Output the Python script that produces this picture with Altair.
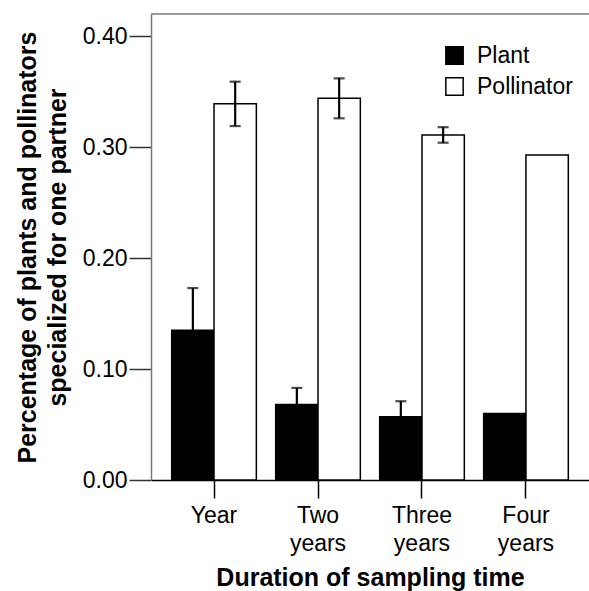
import altair as alt
import pandas as pd

categories = ["Year", "Two years", "Three years", "Four years"]
groups = ["Plant", "Pollinator"]
plant_vals = [0.135, 0.068, 0.057, 0.060]
plant_err = [0.038, 0.015, 0.014, None]
poll_vals = [0.339, 0.344, 0.311, 0.293]
poll_err = [0.020, 0.018, 0.007, None]
y_ticks = [0.0, 0.1, 0.2, 0.3, 0.4]

rows = []
for i, c in enumerate(categories):
    rows.append({"cat": c, "grp": "Plant", "val": plant_vals[i], "err": plant_err[i]})
    rows.append({"cat": c, "grp": "Pollinator", "val": poll_vals[i], "err": poll_err[i]})
df = pd.DataFrame(rows)
df["lo"] = df["val"] - df["err"]
df["hi"] = df["val"] + df["err"]

FONT = "Liberation Sans"
W, H = 438, 466
YMAX = 0.42

x_enc = alt.X("cat:N", sort=categories,
              scale=alt.Scale(paddingInner=0.186, paddingOuter=0.199),
              axis=alt.Axis(title="Duration of sampling time", labelAngle=0,
                            labelExpr="split(datum.label, ' ')",
                            labelFontSize=23, labelFont=FONT, labelColor="black",
                            labelLineHeight=28, labelPadding=6, labelBaseline="top",
                            tickSize=18, tickColor="black", tickWidth=1.5,
                            domainColor="black", domainWidth=1.5,
                            titleFont=FONT, titleFontSize=25, titleFontWeight="bold",
                            titleColor="black", titleY=105, titleBaseline="alphabetic"))
xo_enc = alt.XOffset("grp:N", sort=groups, scale=alt.Scale(paddingInner=0, paddingOuter=0))
y_enc = alt.Y("val:Q", scale=alt.Scale(domain=[0, YMAX], nice=False),
              axis=alt.Axis(values=y_ticks, format=".2f", grid=False,
                            title=["Percentage of plants and pollinators",
                                   "specialized for one partner"],
                            titleFont=FONT, titleFontSize=25, titleFontWeight="bold",
                            titleColor="black", titleLineHeight=30,
                            titleX=-116, titleBaseline="alphabetic",
                            labelFontSize=23, labelFont=FONT, labelColor="black",
                            labelPadding=2, tickSize=22, tickColor="#333", tickWidth=1.5,
                            domainColor="#777", domainWidth=1.5))

bars = alt.Chart(df).mark_bar(stroke="black", strokeWidth=1.5).encode(
    x=x_enc, xOffset=xo_enc, y=y_enc,
    color=alt.Color("grp:N", sort=groups,
                    scale=alt.Scale(domain=groups, range=["black", "white"]),
                    legend=alt.Legend(title=None, orient="none", legendX=292, legendY=30,
                                      symbolType="square", symbolSize=300,
                                      symbolStrokeColor="black", symbolStrokeWidth=1.5,
                                      labelFontSize=23, labelFont=FONT, labelColor="black",
                                      labelOffset=11, rowPadding=6, padding=0))
)

err_df = df.dropna(subset=["err"])
rules = alt.Chart(err_df).mark_rule(color="black", strokeWidth=2.2).encode(
    x=alt.X("cat:N", sort=categories), xOffset=alt.XOffset("grp:N", sort=groups),
    y="lo:Q", y2="hi:Q")
caps_hi = alt.Chart(err_df).mark_tick(color="black", thickness=2.2, size=11).encode(
    x=alt.X("cat:N", sort=categories), xOffset=alt.XOffset("grp:N", sort=groups),
    y="hi:Q")
caps_lo = alt.Chart(err_df).mark_tick(color="black", thickness=2.2, size=11).encode(
    x=alt.X("cat:N", sort=categories), xOffset=alt.XOffset("grp:N", sort=groups),
    y="lo:Q")

top_line = alt.Chart(pd.DataFrame({"a": [0]})).mark_rule(color="#777", strokeWidth=1.5).encode(
    x=alt.value(0), x2=alt.value(W), y=alt.value(0))

chart = alt.layer(bars, rules, caps_hi, caps_lo, top_line).properties(
    width=W, height=H,
    padding={"left": 151, "top": 14, "right": 0, "bottom": 111},
    autosize=alt.AutoSizeParams(type="none"),
    background="white",
).configure_view(stroke=None)

chart.save("out.html", embed_options={"renderer": "svg", "actions": False})
